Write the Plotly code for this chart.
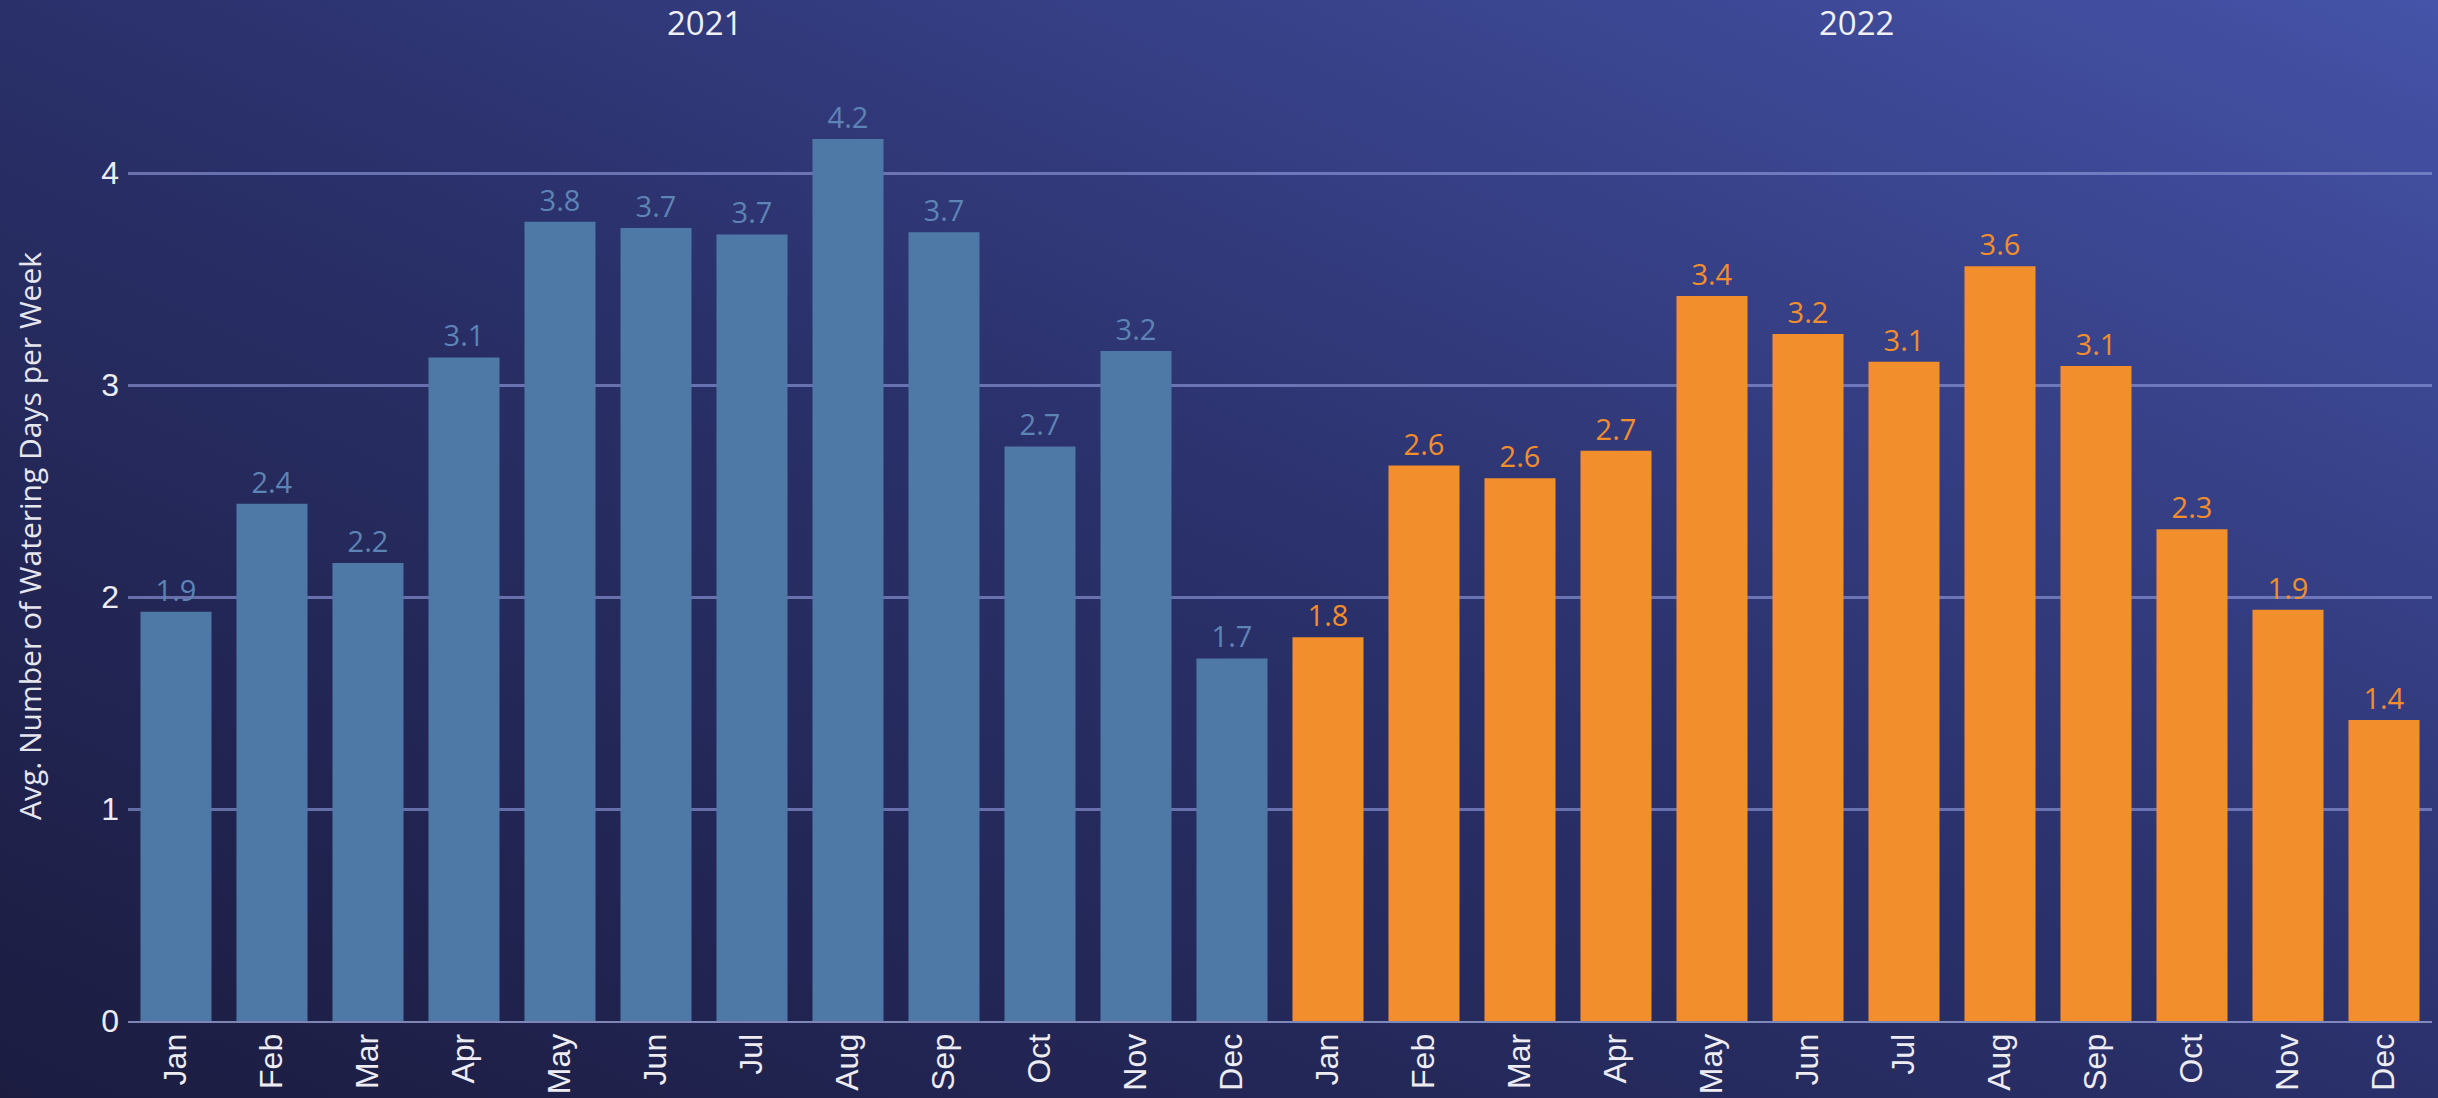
"""
avg watering days per week, monthly, 2021 vs 2022
"""

import base64

import plotly.graph_objects as go

## months and yearly values
months = ["Jan", "Feb", "Mar", "Apr", "May", "Jun", "Jul", "Aug", "Sep", "Oct", "Nov", "Dec"]
years = ["2021", "2022"]
days_2021 = [1.93, 2.44, 2.16, 3.13, 3.77, 3.74, 3.71, 4.16, 3.72, 2.71, 3.16, 1.71]
days_2022 = [1.81, 2.62, 2.56, 2.69, 3.42, 3.24, 3.11, 3.56, 3.09, 2.32, 1.94, 1.42]
y_ticks = [0, 1, 2, 3, 4]

## one category per year/month so both years sit on one axis
cats_2021 = [f"{years[0]}-{m}" for m in months]
cats_2022 = [f"{years[1]}-{m}" for m in months]

blue = "#4e79a7"
orange = "#f28e2b"
W, H = 2438, 1098

## gradient background as svg
svg = (
    '<svg xmlns="http://www.w3.org/2000/svg" width="100" height="100" '
    'viewBox="0 0 100 100" preserveAspectRatio="none">'
    '<defs><linearGradient id="g" x1="0" y1="1" x2="1" y2="0">'
    '<stop offset="0" stop-color="#1b1c40"/>'
    '<stop offset="0.5" stop-color="#2a306a"/>'
    '<stop offset="1" stop-color="#4553a8"/>'
    "</linearGradient></defs>"
    '<rect width="100" height="100" fill="url(#g)"/></svg>'
)
bg_src = "data:image/svg+xml;base64," + base64.b64encode(svg.encode()).decode()

fig = go.Figure()
fig.add_bar(
    x=cats_2021,
    y=days_2021,
    marker=dict(color=blue, line_width=0),
    texttemplate="%{y:.1f}",
    textposition="outside",
    textfont=dict(color="#5d84b6", size=29, family="Open Sans"),
    cliponaxis=False,
    name=years[0],
)
fig.add_bar(
    x=cats_2022,
    y=days_2022,
    marker=dict(color=orange, line_width=0),
    texttemplate="%{y:.1f}",
    textposition="outside",
    textfont=dict(color=orange, size=29, family="Open Sans"),
    cliponaxis=False,
    name=years[1],
)

## year headers + y title as annotations
for i, yr in enumerate(years):
    fig.add_annotation(
        x=5.5 + 12 * i, y=1 - 23 / H, xref="x", yref="paper",
        xanchor="center", yanchor="middle",
        text=yr, showarrow=False,
        font=dict(size=33, color="#f0f0f5", family="Open Sans"),
    )
fig.add_annotation(
    x=29 / W, y=(H - 536) / H, xref="paper", yref="paper",
    xanchor="center", yanchor="middle",
    text="Avg. Number of Watering Days per Week", textangle=-90, showarrow=False,
    font=dict(size=30, color="#e6e6ee", family="Open Sans"),
)

y0 = (H - 1021) / H
unit = 212 / H
ymax = 4.6

fig.update_layout(
    width=W,
    height=H,
    margin=dict(l=0, r=0, t=0, b=0),
    paper_bgcolor="rgba(0,0,0,0)",
    plot_bgcolor="rgba(0,0,0,0)",
    showlegend=False,
    bargap=0.26,
    images=[dict(source=bg_src, xref="paper", yref="paper", x=0, y=1,
                 sizex=1, sizey=1, sizing="stretch", layer="below")],
    font=dict(family="Liberation Sans", color="#ececf2"),
)
fig.update_xaxes(
    domain=[128 / W, 2432 / W],
    range=[-0.5, 23.5],
    tickvals=cats_2021 + cats_2022,
    ticktext=months + months,
    tickangle=-90,
    tickfont=dict(size=32, color="#ececf2"),
    ticklabelstandoff=-2,
    showgrid=False,
    showline=True,
    linecolor="rgba(150,160,210,0.8)",
    linewidth=2,
    ticks="",
    automargin=False,
)
fig.update_yaxes(
    domain=[y0, y0 + ymax * unit],
    range=[0, ymax],
    tickvals=y_ticks,
    tickfont=dict(size=32, color="#ececf2"),
    ticklabelstandoff=8,
    showgrid=True,
    gridcolor="rgba(140,150,215,0.65)",
    gridwidth=3,
    zeroline=False,
    ticks="",
    automargin=False,
)

fig.write_html(
    "out.html",
    config={"displayModeBar": False},
    post_script="document.body.style.margin='0px';",
)
